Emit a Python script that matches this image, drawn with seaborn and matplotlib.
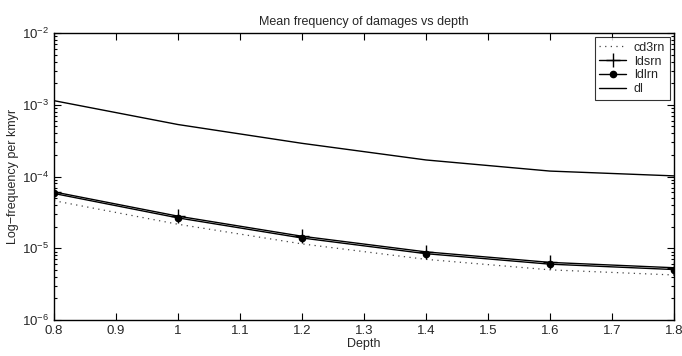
import numpy as np
import pandas as pd
import matplotlib
matplotlib.use("Agg")
import matplotlib.pyplot as plt
import seaborn as sns
from matplotlib.ticker import LogLocator, FixedLocator

depth = [0.8, 1.0, 1.2, 1.4, 1.6, 1.8]
cd3rn = [4.6e-5, 2.16e-5, 1.15e-5, 7.0e-6, 5.0e-6, 4.24e-6]
ldsrn = [6.1e-5, 2.8e-5, 1.47e-5, 8.9e-6, 6.35e-6, 5.35e-6]
ldlrn = [5.8e-5, 2.65e-5, 1.39e-5, 8.4e-6, 6.0e-6, 5.05e-6]
dl = [1.14e-3, 5.3e-4, 2.9e-4, 1.7e-4, 1.19e-4, 1.02e-4]
series_names = ["cd3rn", "ldsrn", "ldlrn", "dl"]

sns.set_style("ticks")
plt.rcParams["font.family"] = ["Liberation Sans", "DejaVu Sans"]

fig = plt.figure(figsize=(6.82, 3.56), dpi=100)
ax = fig.add_axes([54/682, 1-320/356, 620/682, 287/356])

df = pd.DataFrame({"depth": depth * 4,
                   "value": cd3rn + ldsrn + ldlrn + dl,
                   "series": sum([[n]*len(depth) for n in series_names], [])})

styles = {
    "cd3rn": dict(linestyle=(0, (1, 3.5)), marker=None, lw=0.9, color="#444444"),
    "ldsrn": dict(linestyle="-", marker="+", lw=1.0, color="black", markersize=10),
    "ldlrn": dict(linestyle="-", marker="o", lw=1.0, color="black", markersize=4.5),
    "dl": dict(linestyle="-", marker=None, lw=1.0, color="black"),
}
for name in series_names:
    st = styles[name]
    sub = df[df.series == name]
    kw = dict(x="depth", y="value", data=sub, ax=ax, color=st["color"], lw=st["lw"],
              linestyle=st["linestyle"], label=name)
    if st["marker"]:
        kw["marker"] = st["marker"]
        kw["markersize"] = st["markersize"]
        kw["markeredgecolor"] = "black"
        kw["markerfacecolor"] = "black"
        kw["markeredgewidth"] = 1.0
    sns.lineplot(**kw)

ax.set_yscale("log")
ax.set_xlim(0.8, 1.8)
ax.set_ylim(1e-6, 1e-2)
ax.xaxis.set_major_locator(FixedLocator(np.round(np.arange(0.8, 1.81, 0.1), 1)))
ax.set_xticklabels(["0.8", "0.9", "1", "1.1", "1.2", "1.3", "1.4", "1.5", "1.6", "1.7", "1.8"])
ax.yaxis.set_major_locator(LogLocator(base=10, numticks=10))
ax.yaxis.set_minor_locator(LogLocator(base=10, subs=np.arange(2, 10), numticks=20))
ax.tick_params(which="both", direction="in", top=True, right=True, labelsize=9.5, width=0.8, color="black")
ax.tick_params(which="major", length=5)
ax.tick_params(which="minor", length=2.5)
for s in ax.spines.values():
    s.set_linewidth(1.0)
    s.set_color("black")

ax.set_title("Mean frequency of damages vs depth", fontsize=9, pad=6)
ax.set_xlabel("Depth", fontsize=9, labelpad=1)
ax.set_ylabel("Log\u2212frequency per kmyr", fontsize=9, labelpad=2)

leg = ax.legend(loc="upper right", fontsize=9, frameon=True, fancybox=False,
                edgecolor="black", handlelength=2.2, borderpad=0.35, labelspacing=0.15,
                borderaxespad=0.35, handletextpad=0.6)
leg.get_frame().set_linewidth(0.8)

fig.savefig("out.png", dpi=100)
